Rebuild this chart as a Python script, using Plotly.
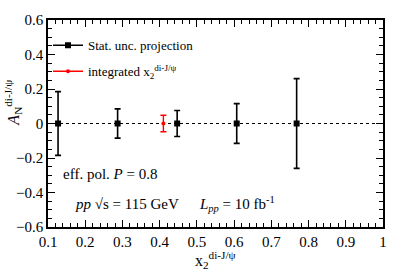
import plotly.graph_objects as go

# data
x_bins = [0.127, 0.287, 0.447, 0.607, 0.768]
a_n = [0.0, 0.0, 0.0, 0.0, 0.0]
stat_err = [0.185, 0.085, 0.075, 0.115, 0.26]
x_int = [0.41]
a_int = [0.0]
err_int = [0.048]

FONT = "Liberation Serif, Times New Roman, serif"

fig = go.Figure()
fig.add_trace(go.Scatter(
    x=x_bins, y=a_n, mode="markers",
    marker=dict(symbol="square", size=6, color="black"),
    error_y=dict(type="data", array=stat_err, color="black", thickness=1.6, width=3),
    showlegend=False, hoverinfo="skip"))
fig.add_trace(go.Scatter(
    x=x_int, y=a_int, mode="markers",
    marker=dict(symbol="circle", size=4, color="red"),
    error_y=dict(type="data", array=err_int, color="red", thickness=1.4, width=3),
    showlegend=False, hoverinfo="skip"))
# legend entries
fig.add_trace(go.Scatter(
    x=[None], y=[None], mode="lines+markers", name="Stat. unc. projection",
    line=dict(color="black", width=1.6), marker=dict(symbol="square", size=6, color="black"),
    legendgroup="a"))
fig.add_trace(go.Scatter(
    x=[None], y=[None], mode="lines+markers", name="integrated x<sub>2</sub><sup>di-J/ψ</sup>",
    line=dict(color="red", width=1.4), marker=dict(symbol="circle", size=4, color="red"),
    legendgroup="b"))

axis_common = dict(
    showgrid=False, zeroline=False, showline=True, linecolor="black", linewidth=1.5,
    mirror="ticks", ticks="inside", ticklen=7, tickwidth=1, tickcolor="black",
    tickfont=dict(family=FONT, size=15, color="black"),
)
fig.update_xaxes(range=[0.1, 1.0], dtick=0.1, tick0=0.1,
                 minor=dict(dtick=0.02, ticks="inside", ticklen=4, tickcolor="black"),
                 **axis_common)
fig.update_yaxes(range=[-0.6, 0.6], dtick=0.2, tick0=0,
                 minor=dict(dtick=0.05, ticks="inside", ticklen=4, tickcolor="black"),
                 **axis_common)

fig.add_shape(type="line", xref="paper", yref="y", x0=0, x1=1, y0=0, y1=0,
              line=dict(color="black", width=1, dash="dot"), layer="below")

ann_font = dict(family=FONT, size=15, color="black")
fig.add_annotation(text="eff. pol. <i>P</i> = 0.8", xref="paper", yref="paper",
                   x=0.038, y=0.255, xanchor="left", yanchor="middle", showarrow=False, font=ann_font)
fig.add_annotation(text="<i>pp</i> √s = 115 GeV", xref="paper", yref="paper",
                   x=0.075, y=0.11, xanchor="left", yanchor="middle", showarrow=False, font=ann_font)
fig.add_annotation(text="<i>L</i><sub><i>pp</i></sub> = 10 fb<sup>-1</sup>", xref="paper", yref="paper",
                   x=0.445, y=0.11, xanchor="left", yanchor="middle", showarrow=False, font=ann_font)
fig.add_annotation(text="x<sub>2</sub><sup>di-J/ψ</sup>", xref="paper", yref="paper",
                   x=0.5, y=-0.158, xanchor="center", yanchor="middle", showarrow=False,
                   font=dict(family=FONT, size=16, color="black"))
fig.add_annotation(text="<i>A</i><sub>N</sub><sup>di-J/ψ</sup>", xref="paper", yref="paper",
                   x=-0.105, y=0.6, xanchor="center", yanchor="middle", showarrow=False, textangle=-90,
                   font=dict(family=FONT, size=16, color="black"))

fig.update_layout(
    width=399, height=272,
    margin=dict(l=48, r=14, t=15, b=45),
    paper_bgcolor="white", plot_bgcolor="white",
    font=dict(family=FONT, size=15, color="black"),
    showlegend=True,
    legend=dict(x=0.0, y=0.95, xanchor="left", yanchor="top", bgcolor="rgba(0,0,0,0)",
                font=dict(family=FONT, size=13, color="black"), itemwidth=30,
                traceorder="grouped", tracegroupgap=6),
)

fig.write_html("out.html", config={"displayModeBar": False},
               post_script="document.body.style.margin='0px';")
